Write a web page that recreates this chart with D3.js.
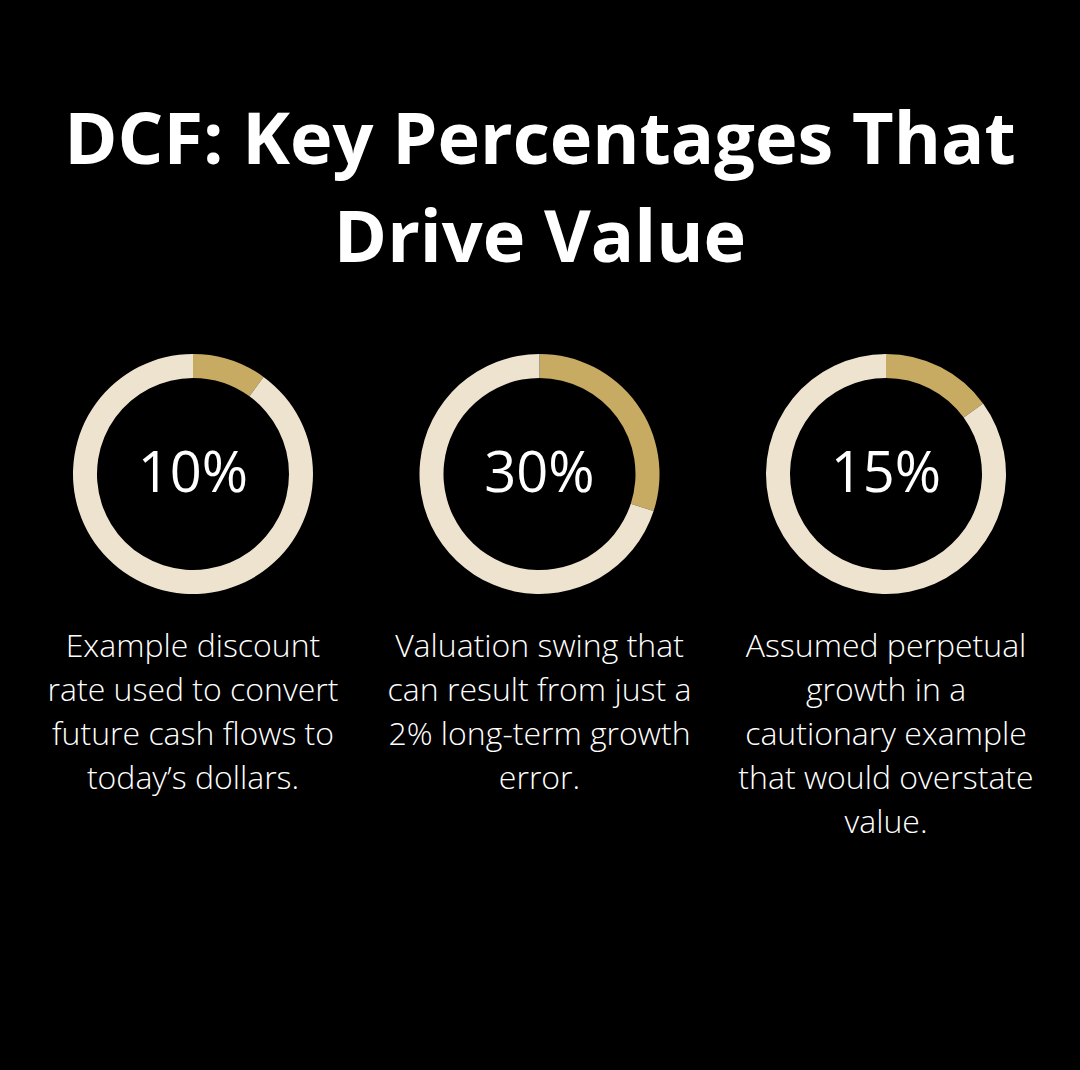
<!DOCTYPE html>
<html>
<head>
<meta charset="utf-8">
<script src="https://cdn.jsdelivr.net/npm/d3@7"></script>
<style>
  html, body { margin: 0; padding: 0; background: #000; }
  svg { display: block; }
</style>
</head>
<body>
<script>
// data
var titleLines = ["DCF: Key Percentages That", "Drive Value"];
var percents   = [10, 30, 15];
var labels     = ["10%", "30%", "15%"];
var captions   = [
  ["Example discount", "rate used to convert", "future cash flows to", "today\u2019s dollars."],
  ["Valuation swing that", "can result from just a", "2% long-term growth", "error."],
  ["Assumed perpetual", "growth in a", "cautionary example", "that would overstate", "value."]
];

var width  = 1080,
    height = 1070;

var gold  = "#c8ab62",
    cream = "#ede3cf";

var svg = d3.select("body").append("svg")
    .attr("width", width)
    .attr("height", height)
    .style("background", "#000");

// title
svg.append("g").selectAll("text")
  .data(titleLines)
  .enter().append("text")
    .attr("x", width / 2)
    .attr("y", function(d, i) { return 164 + i * 98; })
    .attr("text-anchor", "middle")
    .attr("fill", "#fff")
    .style("font-family", "'Open Sans', sans-serif")
    .style("font-weight", 700)
    .style("font-size", "72px")
    .text(function(d) { return d; });

// column positions
var x = d3.scalePoint()
    .domain(d3.range(percents.length))
    .range([193, 886]);

var cy = 474,
    rOuter = 120,
    rInner = 96;

var pie = d3.pie().sort(null).value(function(d) { return d; });
var arc = d3.arc().innerRadius(rInner).outerRadius(rOuter);

var cols = svg.selectAll("g.col")
  .data(percents)
  .enter().append("g")
    .attr("class", "col")
    .attr("transform", function(d, i) { return "translate(" + x(i) + "," + cy + ")"; });

cols.selectAll("path")
  .data(function(d) { return pie([d, 100 - d]); })
  .enter().append("path")
    .attr("d", arc)
    .attr("fill", function(d, i) { return i === 0 ? gold : cream; });

cols.append("text")
    .attr("y", 18)
    .attr("text-anchor", "middle")
    .attr("fill", "#fff")
    .style("font-family", "'Open Sans', sans-serif")
    .style("font-weight", 500)
    .style("font-size", "56px")
    .text(function(d, i) { return labels[i]; });

cols.each(function(d, i) {
  d3.select(this).selectAll("text.cap")
    .data(captions[i])
    .enter().append("text")
      .attr("class", "cap")
      .attr("y", function(t, j) { return 657 - cy + j * 44; })
      .attr("text-anchor", "middle")
      .attr("fill", "#fff")
      .style("font-family", "'Open Sans', sans-serif")
      .style("font-weight", 300)
      .style("font-size", "32px")
      .text(function(t) { return t; });
});
</script>
</body>
</html>
